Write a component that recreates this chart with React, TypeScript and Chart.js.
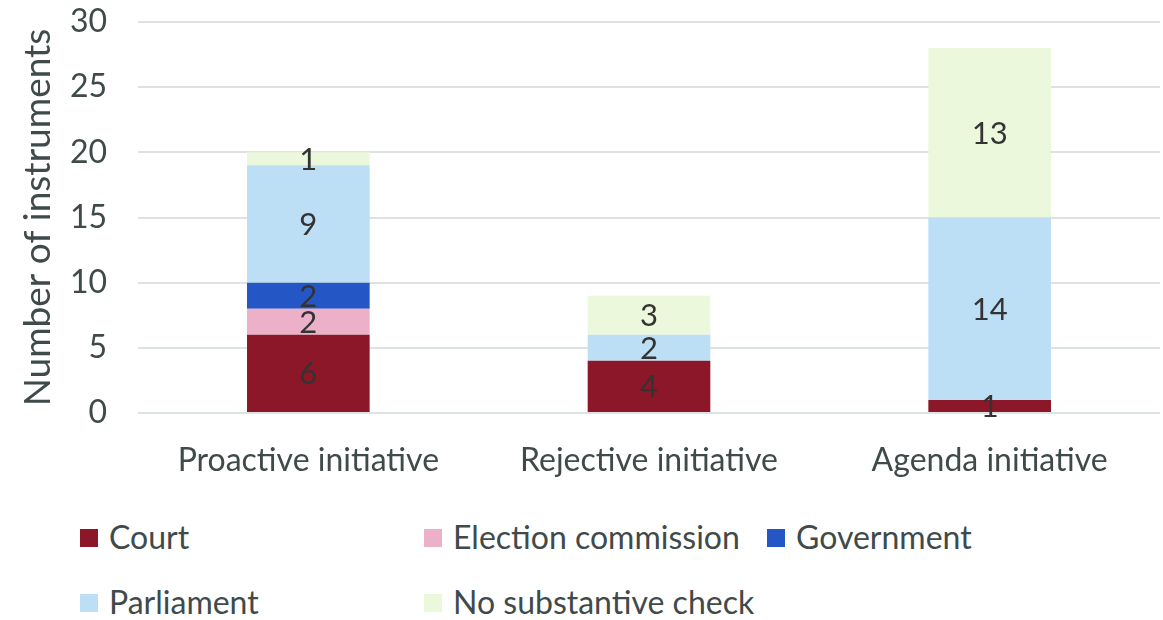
import React, { useEffect, useRef } from "react";
import { Chart, registerables } from "chart.js";

Chart.register(...registerables);

const FONT = "Lato, 'Open Sans', sans-serif";
const TEXT = "#404a4a";

const categories = ["Proactive initiative", "Rejective initiative", "Agenda initiative"];
const seriesNames = ["Court", "Election commission", "Government", "Parliament", "No substantive check"];
const court = [6, 4, 1];
const electionCommission = [2, null, null];
const government = [2, null, null];
const parliament = [9, 2, 14];
const noCheck = [1, 3, 13];
const seriesColors = ["#8c1728", "#ecb0c9", "#2457c5", "#bddff5", "#ebf8dc"];
const yMax = 30;
const yStep = 5;
const yTitle = "Number of instruments";

const seriesValues = [court, electionCommission, government, parliament, noCheck];

const segLabels = {
  id: "segLabels",
  afterDatasetsDraw(chart: any) {
    const ctx = chart.ctx;
    ctx.save();
    ctx.font = `31px ${FONT}`;
    ctx.fillStyle = "#333333";
    ctx.textAlign = "center";
    ctx.textBaseline = "middle";
    chart.data.datasets.forEach((ds: any, i: number) => {
      const meta = chart.getDatasetMeta(i);
      meta.data.forEach((bar: any, j: number) => {
        const v = ds.data[j];
        if (v == null || v === 0) return;
        const p = bar.getProps(["x", "y", "base"], true);
        ctx.fillText(String(v), p.x, (p.y + p.base) / 2 + 1);
      });
    });
    ctx.restore();
  },
};

export default function App() {
  const ref = useRef<HTMLCanvasElement | null>(null);

  useEffect(() => {
    if (!ref.current) return;
    const chart = new Chart(ref.current, {
      type: "bar",
      data: {
        labels: categories,
        datasets: seriesNames.map((name, i) => ({
          label: name,
          data: seriesValues[i] as any,
          backgroundColor: seriesColors[i],
          borderWidth: 0,
          categoryPercentage: 1,
          barPercentage: 0.36,
        })),
      },
      options: {
        responsive: false,
        animation: false,
        layout: { padding: { top: 22, right: 3, left: 0, bottom: 0 } },
        plugins: {
          legend: { display: false },
          tooltip: { enabled: false },
        },
        scales: {
          x: {
            stacked: true,
            grid: { display: false, drawTicks: false },
            border: { display: false },
            ticks: { color: TEXT, font: { family: FONT, size: 32 }, padding: 28 },
            afterFit: (s: any) => {
              s.height = 87;
              s.paddingLeft = 0;
              s.paddingRight = 0;
            },
          },
          y: {
            stacked: true,
            min: 0,
            max: yMax,
            ticks: { stepSize: yStep, color: TEXT, font: { family: FONT, size: 32 }, padding: 31 },
            grid: { color: "#dde2e2", lineWidth: 2, drawTicks: false },
            border: { display: false },
            title: {
              display: true,
              text: yTitle,
              color: TEXT,
              font: { family: FONT, size: 37 },
              padding: { top: 16, bottom: 0 },
            },
            afterFit: (s: any) => {
              s.width = 138;
              s.paddingTop = 0;
              s.paddingBottom = 0;
            },
          },
        },
      },
      plugins: [segLabels],
    });
    return () => chart.destroy();
  }, []);

  const legendRows = [
    [0, 1, 2],
    [3, 4],
  ];
  const colX = [80, 424, 767];
  const rowY = [536, 601];

  return (
    <div style={{ position: "absolute", left: 0, top: 0, width: 1163, height: 620, background: "#fff", overflow: "hidden" }}>
      <canvas ref={ref} width={1163} height={500} style={{ position: "absolute", left: 0, top: 0 }} />
      {legendRows.map((row, r) =>
        row.map((idx, c) => (
          <div
            key={idx}
            style={{
              position: "absolute",
              left: colX[c],
              top: rowY[r] - 22,
              height: 44,
              display: "flex",
              alignItems: "center",
              fontFamily: FONT,
              fontSize: 32,
              color: TEXT,
              whiteSpace: "nowrap",
            }}
          >
            <span style={{ display: "inline-block", width: 18, height: 18, background: seriesColors[idx], marginRight: 11, position: "relative", top: 2 }} />
            <span>{seriesNames[idx]}</span>
          </div>
        ))
      )}
    </div>
  );
}
